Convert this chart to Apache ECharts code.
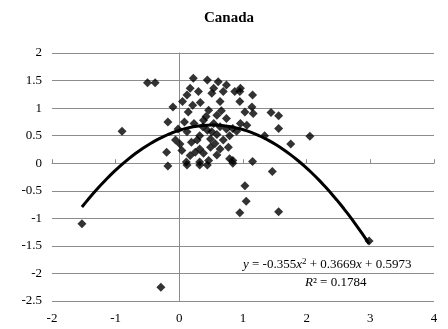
<!DOCTYPE html>
<html><head><meta charset="utf-8">
<script src="https://cdn.jsdelivr.net/npm/echarts@6/dist/echarts.min.js"></script>
<style>html,body{margin:0;padding:0;background:#fff}#c{width:448px;height:329px}</style>
</head><body><div id="c"></div>
<script>
var title = "Canada";
var xTicks = [-2, -1, 0, 1, 2, 3, 4];
var yTicks = [-2.5, -2, -1.5, -1, -0.5, 0, 0.5, 1, 1.5, 2];
var pointsX = [-1.53,-0.90,-0.50,-0.38,-0.29,-0.10,-0.18,-0.20,-0.18,-0.06,
  0.12,0.32,0.44,0.84,1.15,1.46,1.03,1.05,0.95,1.56,2.98,
  2.05,1.75,1.34,1.56,1.56,1.44,1.15,0.95,0.95,1.14,1.03,1.16,0.84,0.96,1.06,0.84,
  0.22,0.44,0.61,0.74,0.96,0.17,0.30,0.54,0.69,0.12,0.51,0.87,
  0.14,0.64,0.46,0.59,0.74,0.37,0.12,0.19,0.01,0.04,0.17,0.32,0.49,0.64,0.77,0.32,0.46,0.79,0.32,0.51,0.64,0.79,0.49,
  0.23,0.38,0.54,0.44,0.59,0.28,0.56,0.69,0.74,0.90,0.08,0.21,0.33,0.05,0.42,0.66,0.11,0.25,0.59,0.38,-0.02];
var pointsY = [-1.10,0.58,1.46,1.46,-2.25,1.02,0.75,0.20,-0.05,0.42,
  -0.03,-0.03,-0.03,0.00,0.03,-0.15,-0.41,-0.69,-0.90,-0.88,-1.41,
  0.49,0.35,0.50,0.63,0.86,0.92,1.24,1.30,1.12,1.02,0.93,0.90,0.63,0.72,0.69,0.05,
  1.54,1.51,1.48,1.42,1.36,1.36,1.30,1.36,1.30,1.24,1.27,1.30,
  0.93,1.12,0.96,0.87,0.81,0.66,0.57,0.38,0.35,0.23,0.14,0.26,0.29,0.26,0.29,0.02,0.05,0.08,0.50,0.57,0.66,0.50,0.44,
  0.72,0.78,0.72,0.60,0.52,0.42,0.36,0.42,0.62,0.58,0.75,1.05,1.10,1.12,0.85,0.95,0.02,0.20,0.15,0.18,0.62];
// polynomial trendline shown on the chart: y = a x^2 + b x + c
var trendCoef = [-0.355, 0.3669, 0.5973];
var trendRange = [-1.53, 2.98];

var scatter = pointsX.map(function(x, i){ return [x, pointsY[i]]; });
var trend = [];
var steps = 80;
for (var i = 0; i <= steps; i++) {
  var x = trendRange[0] + (trendRange[1] - trendRange[0]) * i / steps;
  trend.push([x, trendCoef[0]*x*x + trendCoef[1]*x + trendCoef[2]]);
}
var font = "'Liberation Serif','Times New Roman',serif";
var chart = echarts.init(document.getElementById('c'), null, {renderer:'canvas'});
var baseX = {type:'value', min:xTicks[0], max:xTicks[xTicks.length-1], interval:1};
var baseY = {type:'value', min:yTicks[0], max:yTicks[yTicks.length-1], interval:0.5};
chart.setOption({
  animation:false,
  title:{text:title, left:224, textAlign:'center', top:6,
    textStyle:{fontFamily:font, fontSize:15, fontWeight:'bold', color:'#000'}},
  grid:{left:52, right:14, top:53, bottom:28, containLabel:false},
  xAxis:[
    Object.assign({}, baseX, {position:'bottom',
      axisLine:{show:false, onZero:false}, axisTick:{show:false}, splitLine:{show:false},
      axisLabel:{fontFamily:font, fontSize:13, color:'#000', margin:11,
        formatter:function(v){return String(v);}}}),
    Object.assign({}, baseX, {
      axisLine:{show:true, onZero:true, onZeroAxisIndex:0, lineStyle:{color:'#8c8c8c', width:1}},
      axisTick:{show:true, inside:false, length:4, lineStyle:{color:'#8c8c8c'}},
      axisLabel:{show:false}, splitLine:{show:false}})
  ],
  yAxis:[
    Object.assign({}, baseY, {position:'left',
      axisLine:{show:false, onZero:false}, axisTick:{show:false},
      splitLine:{show:true, lineStyle:{color:'#8c8c8c', width:1}},
      axisLabel:{fontFamily:font, fontSize:13, color:'#000', margin:10,
        formatter:function(v){return String(v);}}}),
    Object.assign({}, baseY, {position:'left',
      axisLine:{show:true, onZero:true, onZeroAxisIndex:0, lineStyle:{color:'#8c8c8c', width:1}},
      axisTick:{show:true, length:4, lineStyle:{color:'#8c8c8c'}},
      axisLabel:{show:false}, splitLine:{show:false}})
  ],
  series:[
    {type:'line', data:trend, xAxisIndex:0, yAxisIndex:0, showSymbol:false, smooth:false,
      lineStyle:{color:'#000', width:3}, z:3},
    {type:'scatter', data:scatter, xAxisIndex:0, yAxisIndex:0, symbol:'diamond', symbolSize:9,
      itemStyle:{color:'#000'}, z:4}
  ],
  graphic:[
    {type:'text', left:243, top:257, style:{
      text:'{i|y} = -0.355{i|x}{s|2} + 0.3669{i|x} + 0.5973',
      rich:{i:{fontStyle:'italic', fontFamily:font, fontSize:13, fill:'#000'},
            s:{fontFamily:font, fontSize:9, verticalAlign:'top', padding:[0,0,6,0], fill:'#000'}},
      font:"13px "+font, fill:'#000'}},
    {type:'text', left:305, top:276, style:{
      text:'{i|R}² = 0.1784',
      rich:{i:{fontStyle:'italic', fontFamily:font, fontSize:13, fill:'#000'}},
      font:"13px "+font, fill:'#000'}}
  ]
});
</script></body></html>
